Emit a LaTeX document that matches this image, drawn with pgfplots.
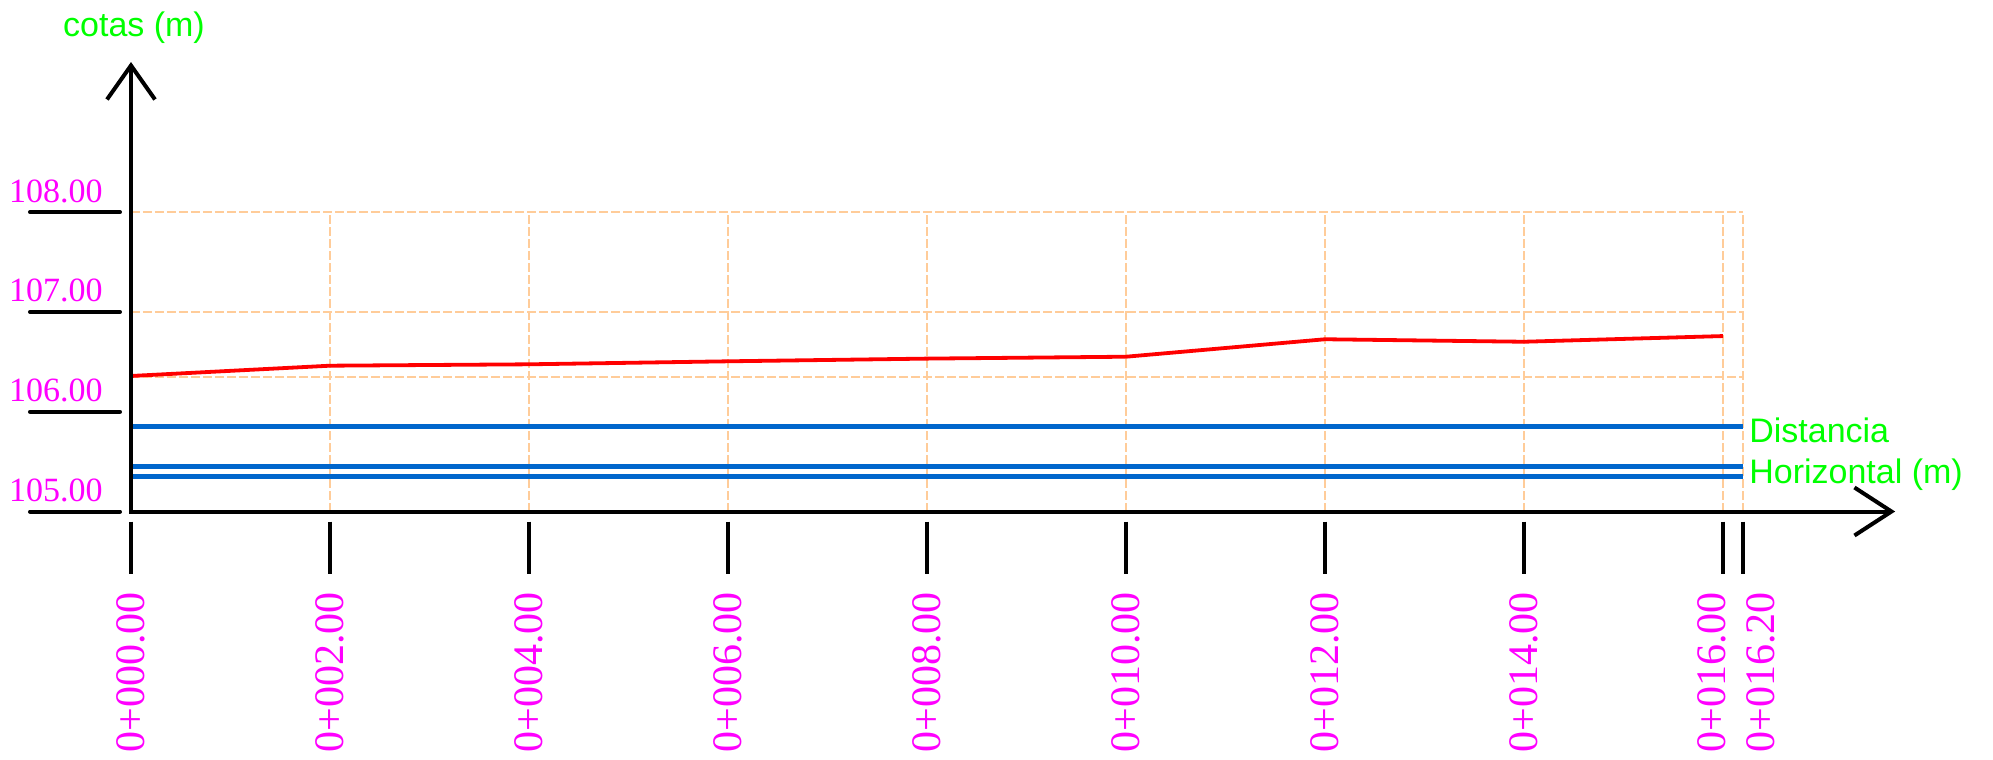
\documentclass[border=0pt]{standalone}
\usepackage{pgfplots}
\pgfplotsset{compat=1.18}
\usepackage{fontspec}
\setmainfont{Liberation Serif}
\newfontfamily\sansf{Liberation Sans}
\usetikzlibrary{arrows.meta}
\definecolor{gridc}{RGB}{255,204,153}
\definecolor{magc}{RGB}{255,0,255}
\definecolor{greenc}{RGB}{0,255,0}
\definecolor{bluec}{RGB}{0,102,204}
\definecolor{redc}{RGB}{255,0,0}

\newcommand{\mytick}[3]{%
  \draw[line width=2.2pt] ([yshift=-5pt]axis cs:#1,105) -- ([yshift=-31pt]axis cs:#1,105);
  \node[rotate=90, anchor=east, inner sep=0pt, text=magc, font=\fontsize{21pt}{24pt}\selectfont]
    at ([xshift=#3, yshift=-40.25pt]axis cs:#1,105) {#2};
}

\begin{document}
\begin{tikzpicture}
\path[use as bounding box] (0,0) rectangle (996.5pt,-380pt);
\begin{axis}[
  at={(65.5pt,-255.75pt)}, anchor=south west,
  x=49.75pt, y=49.9pt,
  xmin=0, xmax=16.2, ymin=105, ymax=108,
  enlargelimits=false, hide axis, clip=false,
]
% grid
\pgfplotsinvokeforeach{2,4,6,8,10,12,14,16,16.2}{
  \draw[gridc, line width=0.85pt, dash pattern=on 4.5pt off 1.5pt] (axis cs:#1,105) -- (axis cs:#1,108);
}
\pgfplotsinvokeforeach{106.351,107,108}{
  \draw[gridc, line width=0.85pt, dash pattern=on 4.5pt off 1.5pt] (axis cs:0,#1) -- (axis cs:16.2,#1);
}
% horizontal reference lines
\addplot[bluec, line width=2.2pt] coordinates {(0,105.851) (16.2,105.851)};
\addplot[bluec, line width=2.2pt] coordinates {(0,105.451) (16.2,105.451)};
\addplot[bluec, line width=2.2pt] coordinates {(0,105.351) (16.2,105.351)};
% terrain profile
\addplot[redc, line width=1.9pt] coordinates {
  (0,106.358) (2,106.461) (4,106.475) (6,106.505) (8,106.532)
  (10,106.551) (12,106.726) (14,106.701) (16,106.758)
};
% axes
\draw[line width=2pt, {Straight Barb[length=17pt,width=24pt]}-{Straight Barb[length=18.5pt,width=24pt]}]
  (axis cs:0,109.504) -- (axis cs:0,105) -- (axis cs:17.73,105);
% y ticks
\pgfplotsinvokeforeach{105,106,107,108}{
  \draw[line width=2pt, line cap=round] ([xshift=-50.5pt]axis cs:0,#1) -- ([xshift=-5.5pt]axis cs:0,#1);
  \node[anchor=base east, inner sep=0pt, text=magc, font=\fontsize{17pt}{20pt}\selectfont]
    at ([xshift=-14pt,yshift=5pt]axis cs:0,#1) {#1.00};
}
% x ticks
\mytick{0}{0+000.00}{0pt}
\mytick{2}{0+002.00}{0pt}
\mytick{4}{0+004.00}{0pt}
\mytick{6}{0+006.00}{0pt}
\mytick{8}{0+008.00}{0pt}
\mytick{10}{0+010.00}{0pt}
\mytick{12}{0+012.00}{0pt}
\mytick{14}{0+014.00}{0pt}
\mytick{16}{0+016.00}{-5.5pt}
\mytick{16.2}{0+016.20}{9pt}
% titles
\node[anchor=base, inner sep=0pt, text=greenc, font=\sansf\fontsize{17pt}{20pt}\selectfont]
  at ([xshift=1.5pt, yshift=237.75pt]axis cs:0,105) {cotas (m)};
\node[anchor=base west, inner sep=0pt, text=greenc, font=\sansf\fontsize{17pt}{20pt}\selectfont]
  at ([xshift=3pt, yshift=34.75pt]axis cs:16.2,105) {Distancia};
\node[anchor=base west, inner sep=0pt, text=greenc, font=\sansf\fontsize{17pt}{20pt}\selectfont]
  at ([xshift=3pt, yshift=14.25pt]axis cs:16.2,105) {Horizontal (m)};
\end{axis}
\end{tikzpicture}
\end{document}
